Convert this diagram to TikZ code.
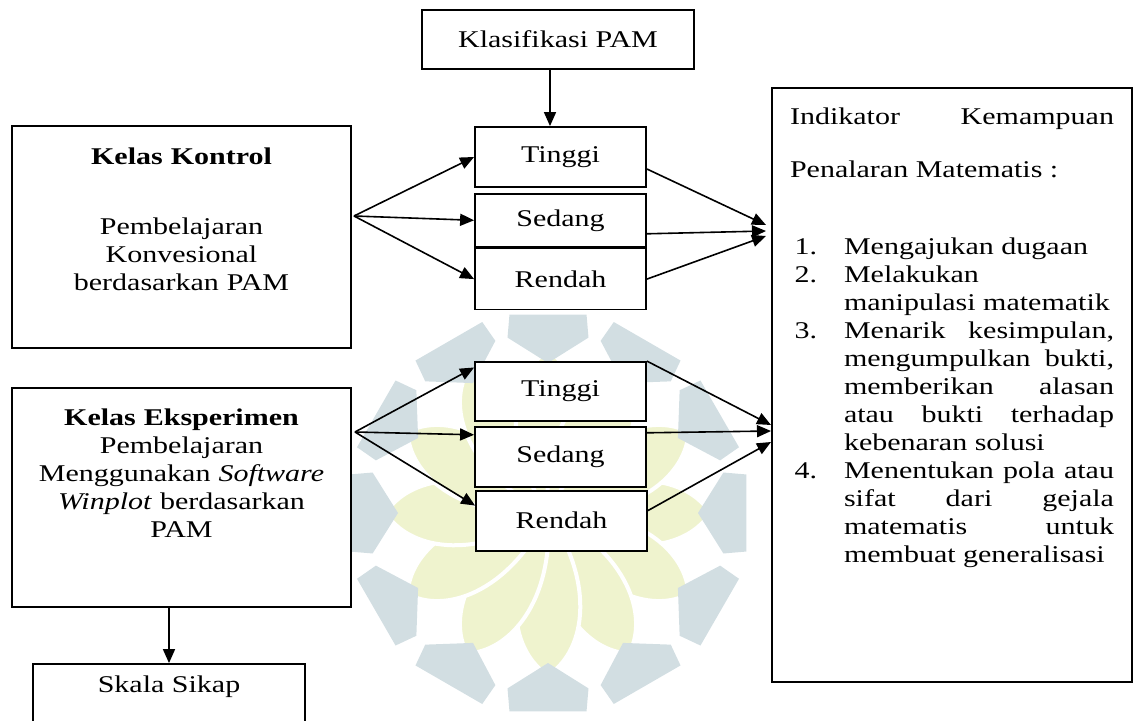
\documentclass[tikz,border=0pt]{standalone}
\usepackage{fontspec}
\setmainfont{Liberation Serif}[FakeStretch=1.25]
\usepackage{enumitem}
\usetikzlibrary{arrows.meta, positioning}

\definecolor{wmgrey}{RGB}{210,222,226}
\definecolor{wmyellow}{RGB}{239,243,206}

\begin{document}
\begin{tikzpicture}[x=0.5pt, y=-0.5pt,
        font=\fontsize{12pt}{14pt}\selectfont,
        kotak/.style={draw, fill=white, line width=0.9pt, inner sep=0pt, align=center},
        kecil/.style={kotak, minimum width=85.5pt},
        panah/.style={-{Triangle[length=7pt,width=6pt]}, line width=0.8pt}]
        \path[use as bounding box, clip] (0,0) rectangle (1134,721);

        % watermark logo in the background
        \begin{scope}[shift={(548,513)}]
            \foreach \a in {0,30,...,330} {
                \fill[wmyellow, draw=white, line width=2pt] (0,0) .. controls ({\a-34}:90) and ({\a-14}:145) .. (\a:162)
                    .. controls ({\a+14}:145) and ({\a+34}:90) .. (0,0);
            }
            \foreach \a in {0,30,...,330} {
                \fill[wmgrey] ({\a-11}:202) -- ({\a+11}:202) -- ({\a+13}:180) -- (\a:150) -- ({\a-13}:180) -- cycle;
            }
        \end{scope}

        \node[kotak, minimum width=136pt, minimum height=29.5pt] (klas) at (558,39.5) {Klasifikasi PAM};

        \node[kecil, minimum height=30pt]     (tinggiA)   at (560.5,157)               {Tinggi};
        \node[kecil, minimum height=26.5pt]   (sedangA)   [below=2.5pt of tinggiA]     {Sedang};
        \node[kecil, minimum height=30.5pt]   (rendahA)   [below=0pt of sedangA]       {Rendah};

        \node[kecil, minimum height=29.5pt]   (tinggiB)   at (560.5,391.5)             {Tinggi};
        \node[kecil, minimum height=30pt]     (sedangB)   [below=2pt of tinggiB]       {Sedang};
        \node[kecil, minimum height=30pt]     (rendahB)   [below=1pt of sedangB, xshift=0.5pt] {Rendah};

        \node[kotak, text width=169.5pt, text height=19.5pt, text depth=91.5pt] (kontrol) at (181.5,237)
            {\textbf{Kelas Kontrol}\\[21pt] Pembelajaran\\ Konvesional\\ berdasarkan PAM};
        \node[kotak, text width=169.5pt, text height=18.5pt, text depth=91pt] (eksp) at (181.5,497.5)
            {\textbf{Kelas Eksperimen}\\ Pembelajaran\\ Menggunakan \textit{Software}\\ \textit{Winplot} berdasarkan\\ PAM};
        \node[kotak, minimum width=136pt, text height=14pt, text depth=20pt] (skala) at (169,698) {Skala Sikap};

        \node[kotak, align=justify, inner xsep=9pt, text width=162pt, text height=18.5pt, text depth=278.5pt] (indik) at (952,385)
            {Indikator \hfill Kemampuan\\[12.5pt]
             Penalaran Matematis :
             \begin{enumerate}[leftmargin=27pt, labelsep=13.5pt, topsep=24.5pt, partopsep=0pt, itemsep=0pt, parsep=0pt]
             \item Mengajukan dugaan
             \item Melakukan\newline manipulasi matematik
             \item Menarik kesimpulan,\linebreak mengumpulkan bukti,\linebreak memberikan alasan\linebreak atau bukti terhadap\linebreak kebenaran solusi
             \item Menentukan pola atau\linebreak sifat dari gejala\linebreak matematis untuk\linebreak membuat generalisasi
             \end{enumerate}};

        \coordinate (klasOut) at ([xshift=-4pt]klas.south);
        \coordinate (srcA)    at (354,216);
        \coordinate (srcB)    at (355,432);
        \coordinate (toA)     at (766,231);
        \coordinate (toB)     at (771,431);

        \path[panah] (klasOut) edge (klasOut |- tinggiA.north)
        (srcA) edge (tinggiA.west)
        edge (sedangA.west)
        edge (rendahA.west)
        (srcB) edge ([yshift=12pt]tinggiB.west)
        edge ([yshift=11pt]sedangB.west)
        edge ([yshift=7.5pt]rendahB.west)
        ([yshift=-6pt]tinggiA.east) edge ([yshift=3pt]toA)
        ([yshift=-6.75pt]sedangA.east) edge (toA)
        (rendahA.east) edge ([yshift=-2.5pt]toA)
        (tinggiB.north east) edge ([yshift=3pt]toB)
        ([yshift=12pt]sedangB.east) edge (toB)
        ([yshift=5pt]rendahB.east) edge ([yshift=-5.5pt]toB)
        (eksp.south -| skala.north) edge (skala.north)
        ;
    \end{tikzpicture}
\end{document}
